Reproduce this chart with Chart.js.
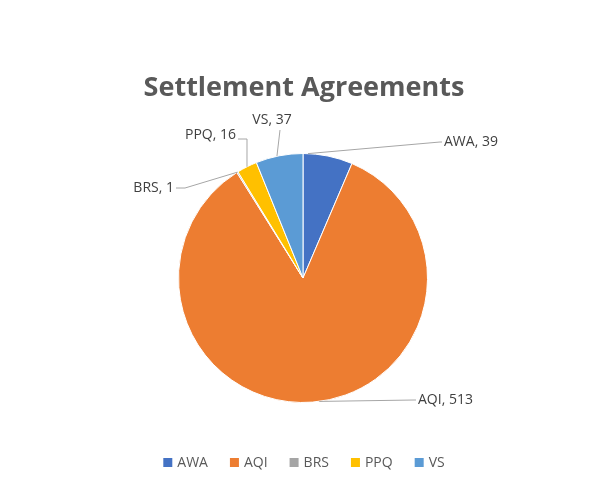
<!DOCTYPE html>
<html>
<head>
<meta charset="utf-8">
<script src="https://cdn.jsdelivr.net/npm/chart.js@4/dist/chart.umd.min.js"></script>
<style>
  html, body { margin: 0; padding: 0; background: #fff; }
  #wrap { width: 600px; height: 500px; }
</style>
</head>
<body>
<div id="wrap"><canvas id="pie"></canvas></div>
<script>
const labels = ['AWA', 'AQI', 'BRS', 'PPQ', 'VS'];
const values = [39, 513, 1, 16, 37];
const colors = ['#4472C4', '#ED7D31', '#A5A5A5', '#FFC000', '#5B9BD5'];

// leader line layout per slice: where the line leaves the arc (0..1 along slice), elbow, text anchor
const leaders = [
    { frac: 0.1, elbow: [440, 142], text: [444, 142], align: 'left' },
    { frac: 0.49, elbow: [414, 400], text: [418, 400], align: 'left' },
    { frac: 0.5, elbow: [185, 188], text: [174, 188], align: 'right' },
    { frac: 0.5, elbow: [247, 139], text: [236, 135], align: 'right' },
    { frac: 0.45, elbow: [280, 130], text: [272, 120], align: 'center' }
];

const textFont = '14px "Open Sans", "Liberation Sans", sans-serif';

const overlay = {
    id: 'overlay',
    afterDraw(chart) {
        const ctx = chart.ctx;
        const meta = chart.getDatasetMeta(0);
        ctx.save();
        // title
        ctx.fillStyle = '#595959';
        ctx.font = 'bold 27px "Open Sans", "Liberation Sans", sans-serif';
        ctx.textAlign = 'center';
        ctx.textBaseline = 'middle';
        ctx.fillText('Settlement Agreements', 304, 88);

        // data labels with leader lines
        ctx.font = textFont;
        meta.data.forEach((arc, i) => {
            const L = leaders[i];
            const a = arc.startAngle + (arc.endAngle - arc.startAngle) * L.frac;
            const x0 = arc.x + Math.cos(a) * arc.outerRadius;
            const y0 = arc.y + Math.sin(a) * arc.outerRadius;
            ctx.strokeStyle = '#A6A6A6';
            ctx.lineWidth = 1;
            ctx.beginPath();
            ctx.moveTo(x0, y0);
            ctx.lineTo(L.elbow[0], L.elbow[1]);
            if (L.align !== 'center') ctx.lineTo(L.text[0] + (L.align === 'left' ? -2 : 2), L.elbow[1]);
            ctx.stroke();
            ctx.fillStyle = '#404040';
            ctx.textAlign = L.align;
            ctx.fillText(labels[i] + ', ' + values[i], L.text[0], L.text[1]);
        });

        // legend
        ctx.font = '14px "Open Sans", "Liberation Sans", sans-serif';
        ctx.textAlign = 'left';
        const widths = labels.map(l => 14 + ctx.measureText(l).width);
        const gap = 22;
        const total = widths.reduce((s, w) => s + w, 0) + gap * (labels.length - 1);
        let x = 304 - total / 2;
        labels.forEach((l, i) => {
            ctx.fillStyle = colors[i];
            ctx.fillRect(x, 458, 9, 9);
            ctx.fillStyle = '#595959';
            ctx.fillText(l, x + 14, 463);
            x += widths[i] + gap;
        });
        ctx.restore();
    }
};

new Chart(document.getElementById('pie'), {
    type: 'pie',
    data: {
        labels: labels,
        datasets: [{
            data: values,
            backgroundColor: colors,
            borderColor: '#ffffff',
            borderWidth: 1
        }]
    },
    options: {
        responsive: true,
        maintainAspectRatio: false,
        animation: false,
        layout: { padding: { top: 153, bottom: 97, left: 178, right: 172 } },
        plugins: {
            legend: { display: false },
            title: { display: false },
            tooltip: { enabled: false }
        }
    },
    plugins: [overlay]
});
</script>
</body>
</html>
